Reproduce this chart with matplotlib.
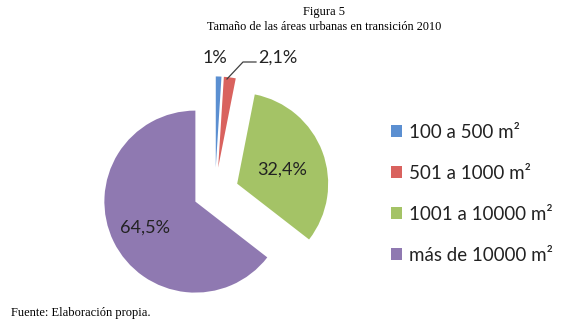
import matplotlib.pyplot as plt

# data
categories = ['100 a 500 m²', '501 a 1000 m²', '1001 a 10000 m²', 'más de 10000 m²']
shares = [1.0, 2.1, 32.4, 64.5]
pct_labels = ['1%', '2,1%', '32,4%', '64,5%']
colors = ['#5B8FD1', '#D9625E', '#A4C366', '#8F79B1']
explode = [0.27, 0.27, 0.26, 0.24]

W, H = 583, 326
fig = plt.figure(figsize=(W / 100, H / 100), dpi=100)

# pie axes: 240x240 px box, centre of unexploded pie at (215, 192), r = 91 px
x0, y0, size = 100, 60, 240
ax = fig.add_axes([x0 / W, 1 - (y0 + size) / H, size / W, size / H])
r_px = 91
cx, cy = 215, 192
wedges, _ = ax.pie(shares, colors=colors, explode=explode, startangle=90,
                   counterclock=False, radius=1,
                   wedgeprops=dict(linewidth=0))
ax.set_xlim(-(cx - x0) / r_px, (x0 + size - cx) / r_px)
ax.set_ylim(-(y0 + size - cy) / r_px, (cy - y0) / r_px)
ax.set_aspect('equal')
ax.axis('off')

font = 'Lato'

# data labels (figure pixel positions)
def fxy(px, py):
    return px / W, 1 - py / H

fig.text(*fxy(215, 58), pct_labels[0], ha='center', va='center', fontsize=13,
         family=font, color='#222222')
fig.text(*fxy(258, 58), pct_labels[1], ha='left', va='center', fontsize=13,
         family=font, color='#222222')
fig.text(*fxy(282, 170), pct_labels[2], ha='center', va='center', fontsize=13,
         family=font, color='#222222')
fig.text(*fxy(145, 228), pct_labels[3], ha='center', va='center', fontsize=13,
         family=font, color='#222222')

# leader line for the red slice
lx = [227, 243, 256]
ly = [79, 62, 62]
fig.add_artist(plt.Line2D([x / W for x in lx], [1 - y / H for y in ly],
                          color='#404040', linewidth=0.9))

# legend
leg = fig.legend(wedges, categories, loc='upper left',
                 bbox_to_anchor=fxy(391, 124), frameon=False,
                 prop=dict(family=font, size=13.5),
                 handlelength=0.6, handleheight=0.6, handletextpad=0.35,
                 labelspacing=1.28, borderaxespad=0, borderpad=0)
for t in leg.get_texts():
    t.set_color('#222222')

# titles
fig.text(*fxy(324, 12), 'Figura 5', ha='center', va='center',
         family='Liberation Serif', fontsize=9)
fig.text(*fxy(324, 27), 'Tamaño de las áreas urbanas en transición 2010',
         ha='center', va='center', family='Liberation Serif', fontsize=8.8)
fig.text(*fxy(11, 313), 'Fuente: Elaboración propia.', ha='left',
         va='center', family='Liberation Serif', fontsize=9)

fig.savefig('out.png', dpi=100)
